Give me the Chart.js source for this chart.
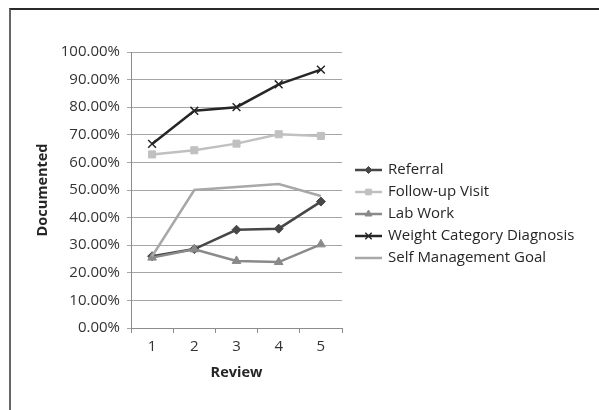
<!DOCTYPE html>
<html>
<head>
<meta charset="utf-8">
<script src="https://cdn.jsdelivr.net/npm/chart.js@4.4.1/dist/chart.umd.min.js"></script>
<style>
  html, body { margin: 0; padding: 0; background: #fff; }
  #wrap { position: relative; width: 599px; height: 410px; }
  #frame { position: absolute; left: 9px; top: 8px; right: 0; bottom: 0;
           border-top: 2px solid #2a2a2a; border-left: 2px solid #666; }
  canvas { position: absolute; left: 0; top: 0; }
</style>
</head>
<body>
<div id="wrap">
  <div id="frame"></div>
  <canvas id="c" width="599" height="410"></canvas>
</div>
<script>
// Review rounds on the x axis
const reviews = ['1', '2', '3', '4', '5'];

// Percentage of records documented, per measure
const referral        = [26.0, 28.6, 35.6, 36.0, 45.8];
const followUpVisit   = [62.9, 64.4, 66.8, 70.2, 69.6];
const labWork         = [25.5, 28.5, 24.3, 23.9, 30.3];
const weightDiagnosis = [66.7, 78.7, 80.0, 88.3, 93.6];
const selfMgmtGoal    = [26.0, 50.0, 51.1, 52.2, 47.8];

const seriesNames = ['Referral', 'Follow-up Visit', 'Lab Work',
                     'Weight Category Diagnosis', 'Self Management Goal'];

const FONT = '"Open Sans", sans-serif';

function series(i, data, color, style, radius, width) {
  return {
    label: seriesNames[i],
    data: data,
    borderColor: color,
    backgroundColor: color,
    pointBackgroundColor: color,
    pointBorderColor: color,
    pointStyle: style,
    pointRadius: radius,
    pointBorderWidth: style === 'crossRot' ? 1.5 : 1,
    borderWidth: width,
    tension: 0,
    order: 5 - i
  };
}

// Legend drawn at the right of the plot: line sample, marker, label
const sideLegend = {
  id: 'sideLegend',
  afterDraw(chart) {
    const ctx = chart.ctx;
    ctx.save();
    chart.data.datasets.forEach((ds, i) => {
      const y = 170 + i * 22;
      ctx.strokeStyle = ds.borderColor;
      ctx.lineWidth = ds.borderWidth;
      ctx.beginPath();
      ctx.moveTo(355, y);
      ctx.lineTo(382, y);
      ctx.stroke();
      if (ds.pointRadius > 0) {
        ctx.fillStyle = ds.pointBackgroundColor;
        ctx.strokeStyle = ds.pointBorderColor;
        ctx.lineWidth = ds.pointBorderWidth;
        Chart.helpers.drawPoint(ctx, {
          pointStyle: ds.pointStyle,
          radius: Math.max(ds.pointRadius - 1, 2.5),
          borderWidth: ds.pointBorderWidth
        }, 368.5, y);
      }
      ctx.fillStyle = '#262626';
      ctx.font = '15px ' + FONT;
      ctx.textBaseline = 'middle';
      ctx.textAlign = 'left';
      ctx.fillText(ds.label, 388, y);
    });
    ctx.restore();
  }
};

new Chart(document.getElementById('c'), {
  type: 'line',
  data: {
    labels: reviews,
    datasets: [
      series(0, referral,        '#474747', 'rectRot',  4.5, 2.5),
      series(1, followUpVisit,   '#c0c0c0', 'rect',     5,   2.5),
      series(2, labWork,         '#8a8a8a', 'triangle', 5,   2.5),
      series(3, weightDiagnosis, '#262626', 'crossRot', 5.5, 2.5),
      series(4, selfMgmtGoal,    '#a8a8a8', 'circle',   0,   2.5)
    ]
  },
  options: {
    responsive: false,
    animation: false,
    devicePixelRatio: 1,
    layout: { padding: { left: 0, right: 257, top: 52, bottom: 0 } },
    plugins: {
      legend: { display: false },
      tooltip: { enabled: false }
    },
    scales: {
      x: {
        offset: true,
        grid: { offset: true, drawOnChartArea: false, drawTicks: true,
                tickLength: 5, color: '#8c8c8c' },
        border: { color: '#8c8c8c', width: 1 },
        ticks: { color: '#333', font: { family: FONT, size: 15 }, padding: 5 },
        title: { display: true, text: 'Review', color: '#262626',
                 font: { family: FONT, size: 14.5, weight: 'bold' },
                 padding: { top: 0, bottom: 28 } },
        afterFit(s) { s.height = 82; }
      },
      y: {
        min: 0,
        max: 100,
        ticks: { stepSize: 10, color: '#333', font: { family: FONT, size: 15 },
                 padding: 7, callback: v => v.toFixed(2) + '%' },
        grid: { color: '#a6a6a6', lineWidth: 1, drawTicks: true, tickLength: 4 },
        border: { color: '#8c8c8c', width: 1 },
        title: { display: true, text: 'Documented', color: '#262626',
                 font: { family: FONT, size: 14.5, weight: 'bold' },
                 padding: { top: 34, bottom: 34 } },
        afterFit(s) { s.width = 131; }
      }
    }
  },
  plugins: [sideLegend]
});
</script>
</body>
</html>
